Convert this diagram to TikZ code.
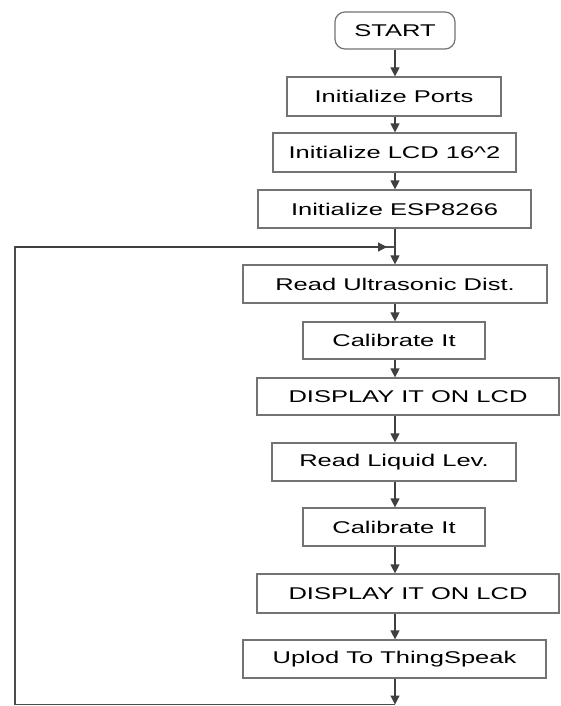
\documentclass[tikz,border=0pt]{standalone}
\usepackage{fontspec}
\setmainfont{Liberation Sans}[FakeStretch=1.5]
\usetikzlibrary{arrows.meta}
\begin{document}
\begin{tikzpicture}[x=1pt,y=-1pt,
  box/.style={draw=black!55, line width=1.2pt, fill=white, inner sep=0pt,
    font=\fontsize{17pt}{20pt}\selectfont, text=black},
  arr/.style={line width=1.2pt, draw=black!75, -{Triangle[width=9pt,length=9pt]}},
  ln/.style={line width=1.2pt, draw=black!70}]
\useasboundingbox (0,0) rectangle (560,706);
\node[box, rounded corners=10pt, minimum width=120pt, minimum height=37pt] (start) at (395,30.5) {START};
\node[box, minimum width=214pt, minimum height=39pt] (ports) at (394,96.5) {Initialize Ports};
\node[box, minimum width=243pt, minimum height=39pt] (lcd) at (394.5,152.5) {Initialize LCD 16\textasciicircum2};
\node[box, minimum width=273pt, minimum height=38pt] (esp) at (394.5,209) {Initialize ESP8266};
\node[box, minimum width=304pt, minimum height=38pt] (ultra) at (395,284) {Read Ultrasonic Dist.};
\node[box, minimum width=182pt, minimum height=37pt] (cal1) at (394,340.5) {Calibrate It};
\node[box, minimum width=302pt, minimum height=37pt] (disp1) at (408,396.5) {DISPLAY IT ON LCD};
\node[box, minimum width=244pt, minimum height=38pt] (liq) at (394,462) {Read Liquid Lev.};
\node[box, minimum width=182pt, minimum height=38pt] (cal2) at (394,527) {Calibrate It};
\node[box, minimum width=302pt, minimum height=39pt] (disp2) at (408,593.5) {DISPLAY IT ON LCD};
\node[box, minimum width=303pt, minimum height=38pt] (upl) at (394.5,659) {Uplod To ThingSpeak};
\coordinate (cx) at (395,0);
\coordinate (j) at (395,247);
\coordinate (jt) at (387,247);
\coordinate (b) at (395,704.5);
\coordinate (bl) at (15,704.5);
\coordinate (tl) at (15,247);
\draw[arr] (start.south -| cx) -- (ports.north -| cx);
\draw[arr] (ports.south -| cx) -- (lcd.north -| cx);
\draw[arr] (lcd.south -| cx) -- (esp.north -| cx);
\draw[arr] (esp.south -| cx) -- (ultra.north -| cx);
\draw[arr] (ultra.south -| cx) -- (cal1.north -| cx);
\draw[arr] (cal1.south -| cx) -- (disp1.north -| cx);
\draw[arr] (disp1.south -| cx) -- (liq.north -| cx);
\draw[arr] (liq.south -| cx) -- (cal2.north -| cx);
\draw[arr] (cal2.south -| cx) -- (disp2.north -| cx);
\draw[arr] (disp2.south -| cx) -- (upl.north -| cx);
\draw[arr] (upl.south -| cx) -- (b);
\draw[ln] (b) -- (bl) -- (tl) -- (j);
\draw[arr] (tl) -- (jt);
\end{tikzpicture}
\end{document}
